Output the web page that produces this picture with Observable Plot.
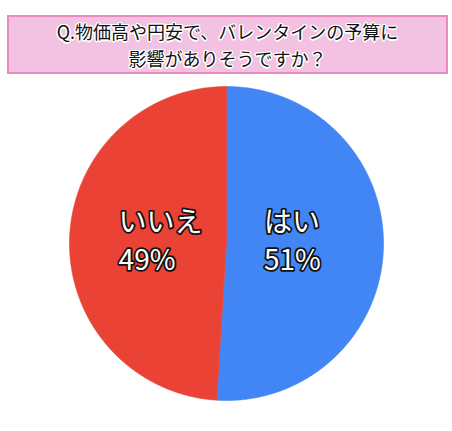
<!DOCTYPE html>
<html>
<head>
<meta charset="utf-8">
<script src="https://cdn.jsdelivr.net/npm/d3@7"></script>
<script src="https://cdn.jsdelivr.net/npm/@observablehq/plot@0.6"></script>
<style>
  html, body { margin: 0; padding: 0; background: #fff; }
  #wrap { position: relative; width: 452px; height: 431px; overflow: hidden; }
  #title {
    position: absolute; left: 7px; top: 15px; width: 441px; height: 59px;
    box-sizing: border-box; border: 2px solid #ea8bbd; background: #f3c1e1;
    display: flex; flex-direction: column; justify-content: center; align-items: center;
    font-family: "Noto Sans CJK JP", sans-serif; font-size: 18px; line-height: 27px; color: #111;
    text-shadow: 0 0 2px #fff, 1px 1px 0 #fff, -1px -1px 0 #fff, 1px -1px 0 #fff, -1px 1px 0 #fff,
                 0 1.5px 0 #fff, 0 -1.5px 0 #fff, 1.5px 0 0 #fff, -1.5px 0 0 #fff;
    z-index: 2;
  }
  #chart { position: absolute; left: 0; top: 0; }
</style>
</head>
<body>
<div id="wrap">
  <div id="chart"></div>
  <div id="title"><div>Q.物価高や円安で、バレンタインの予算に</div><div>影響がありそうですか？</div></div>
</div>
<script>
const titleLines = ["Q.物価高や円安で、バレンタインの予算に", "影響がありそうですか？"];
const categories = ["はい", "いいえ"];
const values = [51, 49];
const colors = ["#4285F4", "#EA4335"];

const arcs = d3.pie().sort(null).startAngle(0).endAngle(2 * Math.PI)(values)
  .map((a, i) => ({...a, cat: categories[i], label: `${categories[i]}\n${values[i]}%`}));

// slice outlines as polygons in unit-circle coordinates
const pts = [];
for (const a of arcs) {
  pts.push({cat: a.cat, x: 0, y: 0});
  const n = Math.max(2, Math.ceil((a.endAngle - a.startAngle) / 0.01));
  for (let k = 0; k <= n; k++) {
    const t = a.startAngle + (a.endAngle - a.startAngle) * k / n;
    pts.push({cat: a.cat, x: Math.sin(t), y: Math.cos(t)});
  }
  pts.push({cat: a.cat, x: 0, y: 0});
}

const fontSize = 28;
const labelFont = `400 ${fontSize}px "Noto Sans CJK JP", sans-serif`;
const ctx = document.createElement("canvas").getContext("2d");
ctx.font = labelFont;
const R = 157; // pixels of radius for conversion
const labelR = 0.42;
for (const a of arcs) {
  const mid = (a.startAngle + a.endAngle) / 2;
  const w = Math.max(...a.label.split("\n").map(s => ctx.measureText(s).width));
  a.lx = labelR * Math.sin(mid) - (w / 2) / R;
  a.ly = 0.03;
}

const chart = Plot.plot({
  width: 452, height: 431,
  marginLeft: 69, marginRight: 69, marginTop: 86, marginBottom: 31,
  x: {domain: [-1, 1], axis: null},
  y: {domain: [-1, 1], axis: null},
  color: {domain: categories, range: colors},
  style: {background: "transparent"},
  marks: [
    Plot.line(pts, {x: "x", y: "y", z: "cat", fill: "cat", stroke: "cat", strokeWidth: 0.6, curve: "linear"}),
    Plot.text(arcs, {
      x: "lx", y: "ly", text: "label", textAnchor: "start",
      fill: "white", stroke: "#111", strokeWidth: 3.5, strokeLinejoin: "round",
      fontSize, fontWeight: 400, fontFamily: "Noto Sans CJK JP, sans-serif", lineHeight: 1.36
    })
  ]
});
document.getElementById("chart").appendChild(chart);
</script>
</body>
</html>
